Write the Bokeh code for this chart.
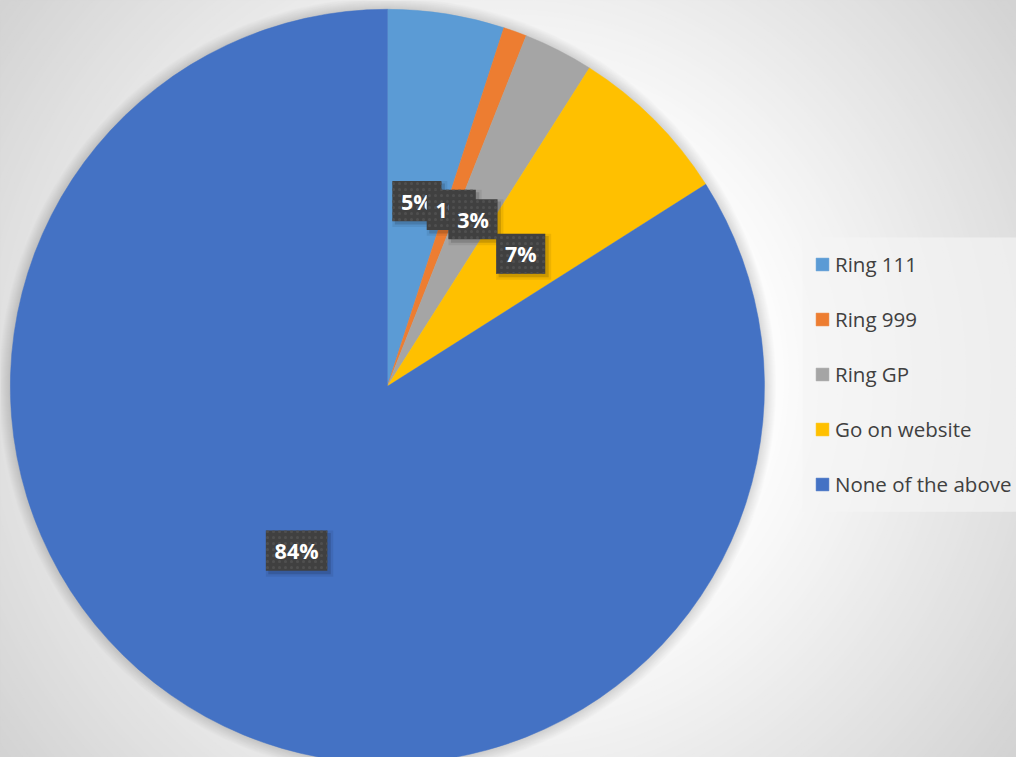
import math
import numpy as np
from bokeh.plotting import figure
from bokeh.models import Range1d, ColumnDataSource
from bokeh.embed import file_html
from bokeh.resources import INLINE
from bokeh.core.properties import value

# ---- data ----
categories = ["Ring 111", "Ring 999", "Ring GP", "Go on website", "None of the above"]
shares = [5, 1, 3, 7, 84]
colors = ["#5B9BD5", "#ED7D31", "#A5A5A5", "#FFC000", "#4472C4"]

# ---- layout: data units follow the 1032x773 reference picture ----
W, H = 1016, 757
RW, RH = 1032, 773
SX, SY = W / RW, H / RH
def Y(py):
    return RH - py

p = figure(width=W, height=H, x_range=Range1d(0, RW), y_range=Range1d(0, RH),
           output_backend="svg", toolbar_location=None, min_border=0,
           x_axis_type=None, y_axis_type=None)
p.grid.visible = False
p.outline_line_color = None
p.background_fill_color = "#d2d2d2"
p.border_fill_color = "#d2d2d2"

# background radial gradient
gx, gy = 516, Y(386)
radii = np.arange(700, 245, -5).astype(float)
t = np.clip((radii - 250) / 400.0, 0, 1)
grays = [int(round(255 - 45 * v)) for v in t]
gcols = ["#%02x%02x%02x" % (g, g, g) for g in grays]
p.circle(x=gx, y=gy, radius=radii, fill_color=gcols, line_color=None)

# pie
cx, cy, R = 393, Y(394), 383
total = float(sum(shares))
fr = np.array(shares) / total
end_f = np.cumsum(fr)
start_f = end_f - fr

# soft halo shadow around the pie
halo = np.arange(R + 12, R, -1).astype(float)
p.circle(x=cx, y=cy, radius=halo, fill_color="black", fill_alpha=0.012, line_color=None)

def ang(f):
    return math.pi / 2 - 2 * math.pi * f

src = ColumnDataSource(dict(
    cat=categories,
    start=[ang(e) for e in end_f],
    end=[ang(s) for s in start_f],
    color=colors,
))
p.wedge(x=cx, y=cy, radius=R, start_angle="start", end_angle="end", direction="anticlock",
        source=src, fill_color="color", line_color="color", line_width=0.5,
        legend_field="cat")

# data labels
for s, sf, f in zip(shares, start_f, fr):
    theta = 2 * math.pi * (sf + f / 2)
    lx = cx + 0.5 * R * math.sin(theta)
    ly = cy + 0.5 * R * math.cos(theta)
    txt = f"{s}%"
    bw = 18 + 22 * (0.572 * (len(txt) - 1) + 0.876)
    bh = 41
    p.rect(x=lx + 3, y=ly - 3, width=bw + 6, height=bh + 6, fill_color="black",
           fill_alpha=0.07, line_color=None)
    p.rect(x=lx + 3, y=ly - 3, width=bw + 1, height=bh + 1, fill_color="black",
           fill_alpha=0.14, line_color=None)
    p.rect(x=lx, y=ly, width=bw, height=bh, fill_color="#404040", line_color=None,
           hatch_pattern="dot", hatch_color="#4f4f4f", hatch_scale=6, hatch_weight=1)
    p.text(x=[lx], y=[ly], text=[txt], text_font=value("Open Sans"),
           text_font_style="bold", text_font_size="21.5px", text_color="white",
           text_align="center", text_baseline="middle")

# legend background panel
p.rect(x=923.5, y=Y(382), width=217, height=280, fill_color="#f4f4f4",
       fill_alpha=0.65, line_color=None)

# legend
lg = p.legend[0]
lg.padding = 0
lg.margin = 0
lg.spacing = 25
lg.label_height = 30
lg.glyph_width = 16
lg.glyph_height = 16
lg.label_standoff = 5
lg.location = (round(828 * SX - 1.6), round(H - (270 * SY - 15 + 5 * 30 + 4 * 25)))
lg.label_text_font = "Open Sans"
lg.label_text_font_size = "20.5px"
lg.label_text_color = "#404040"
lg.background_fill_alpha = 0
lg.border_line_color = None

open("out.html", "w").write(file_html(p, INLINE))
